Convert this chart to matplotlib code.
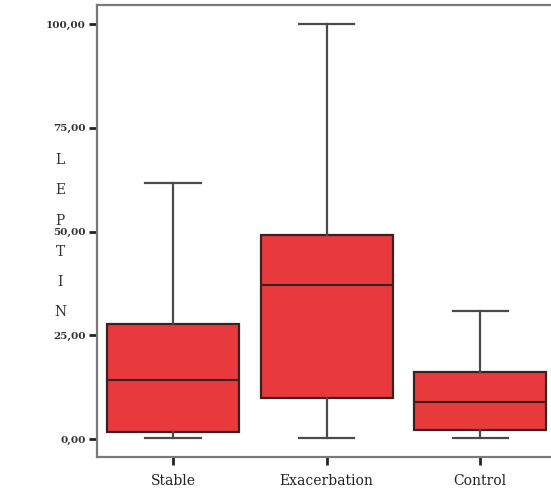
import matplotlib.pyplot as plt
from matplotlib.ticker import FuncFormatter

# leptin levels per group (box plot summary values)
groups = ['Stable', 'Exacerbation', 'Control']
whisker_low = [0.2, 0.2, 0.2]
q1 = [1.7, 9.9, 2.2]
median = [14.2, 37.1, 8.9]
q3 = [27.7, 49.2, 16.1]
whisker_high = [61.7, 100.0, 30.8]
y_ticks = [0, 25, 50, 75, 100]

stats = []
for i, name in enumerate(groups):
    stats.append({
        'label': name,
        'whislo': whisker_low[i],
        'q1': q1[i],
        'med': median[i],
        'q3': q3[i],
        'whishi': whisker_high[i],
        'fliers': [],
    })

fig = plt.figure(figsize=(5.51, 4.95), dpi=100)
ax = fig.add_axes([97 / 551, 38 / 495, 460 / 551, 452 / 495])

ax.bxp(stats, positions=[1, 2, 3], widths=0.86, capwidths=0.36,
       showfliers=False, patch_artist=True,
       boxprops=dict(facecolor='#e83a3c', edgecolor='#3a2222', linewidth=1.6),
       medianprops=dict(color='#3a2222', linewidth=1.5),
       whiskerprops=dict(color='#4a4a4a', linewidth=1.6),
       capprops=dict(color='#4a4a4a', linewidth=1.6))

ax.set_xlim(0.505, 3.5)
ax.set_ylim(-4.34, 104.6)

ax.set_yticks(y_ticks)
ax.yaxis.set_major_formatter(FuncFormatter(lambda v, p: f'{v:.2f}'.replace('.', ',')))
for lab in ax.get_yticklabels():
    lab.set_family('DejaVu Serif')
    lab.set_fontsize(7.5)
    lab.set_fontweight('bold')
    lab.set_color('#333333')

ax.set_xticks([1, 2, 3])
ax.set_xticklabels(groups, family='DejaVu Serif', fontsize=10, color='#222222')

ax.tick_params(axis='both', direction='out', length=6, width=2, color='#222222')
ax.tick_params(axis='y', pad=2)
ax.tick_params(axis='x', pad=6)

for side in ['left', 'bottom', 'top', 'right']:
    ax.spines[side].set_color('#7a7a7a')
    ax.spines[side].set_linewidth(1.6)

# vertical stacked axis title
for k, ch in enumerate('LEPTIN'):
    fig.text(60 / 551, 1 - (160 + 30.5 * k) / 495, ch, family='DejaVu Serif',
             fontsize=10, color='#333333', ha='center', va='center')

fig.savefig('out.png', dpi=100)
